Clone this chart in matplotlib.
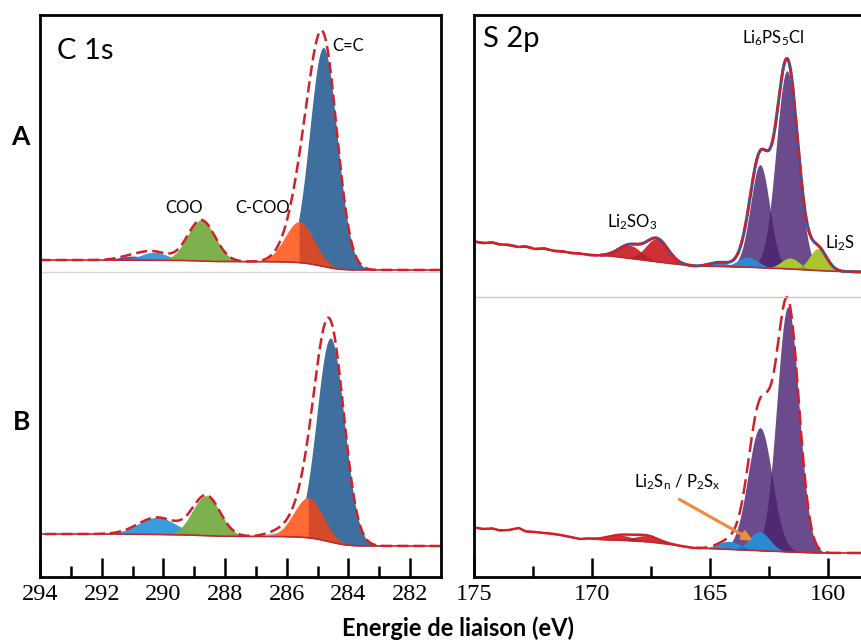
import numpy as np
import matplotlib.pyplot as plt

plt.rcParams['font.family'] = ['Lato', 'DejaVu Sans']
plt.rcParams['mathtext.fontset'] = 'custom'
plt.rcParams['mathtext.rm'] = 'Lato'
plt.rcParams['mathtext.it'] = 'Lato:italic'
plt.rcParams['mathtext.bf'] = 'Lato:bold'

# ---- C 1s fit components (centre eV, height, fwhm), same order in A and B
c1s_colors = ['#5b4a8b', '#2f97db', '#76ad43', '#8ec8ee', '#33679a', '#ff6a35']
c1s_centre_a = [291.0, 290.3, 288.77, 286.3, 284.81, 285.59]
c1s_height_a = [4, 8, 41, 0, 219, 41]
c1s_fwhm_a = [1.0, 1.0, 1.05, 0.9, 1.05, 1.1]
c1s_bg_a = [307, 317]          # low-BE side, high-BE side
c1s_extra_a = [285.45, 22, 0.85]

c1s_centre_b = [291.0, 290.2, 288.61, 286.3, 284.58, 285.30]
c1s_height_b = [0, 17, 40, 4, 204, 40]
c1s_fwhm_b = [1.0, 1.45, 1.05, 0.9, 1.05, 1.1]
c1s_bg_b = [31, 43]
c1s_extra_b = [285.0, 12, 0.8]

# ---- S 2p fit components
s2p_colors = ['#cf2f36', '#cf2f36', '#2a8bd4', '#2a8bd4',
              '#6c4b8d', '#6c4b8d', '#a9c62f', '#a9c62f']
s2p_dark = ['#b0222c', '#1f6fb0', '#4f2a72', '#8ea42a']
s2p_centre_a = [168.4, 167.25, 164.6, 163.4, 162.88, 161.74, 161.6, 160.42]
s2p_height_a = [13, 23, 4, 10, 103, 198, 11, 22]
s2p_fwhm_a = [1.1, 1.1, 0.9, 1.0, 0.95, 1.08, 0.9, 0.85]
s2p_centre_b = [168.8, 167.7, 164.2, 162.9, 162.88, 161.7, 161.6, 160.42]
s2p_height_b = [5, 6, 8, 19, 123, 245, 0, 0]
s2p_fwhm_b = [1.2, 1.2, 1.1, 1.0, 1.2, 1.1, 0.9, 0.85]

s2p_bg_e = [158.5, 159.5, 160.5, 161.5, 162.5, 163.5, 164.5, 165.7, 166.5, 167.5,
            168.5, 169.2, 169.7, 170.1, 170.5, 170.9, 171.2, 171.6, 172.0, 172.4,
            172.8, 173.1, 173.5, 173.9, 174.2, 174.6, 175.0]
s2p_bg_a = [305, 305.5, 306.5, 308, 309, 310, 310.5, 311, 313, 316,
            319, 321, 321.5, 322, 323.5, 324, 325.5, 326, 328.5, 328,
            330.5, 330, 332, 332.5, 334.5, 334, 335.5]
s2p_bg_b = [24, 24, 24, 25, 26, 27, 28, 29, 32, 35,
            36.5, 37, 37.5, 38.5, 38, 40, 41.5, 43, 44, 45,
            45.5, 49, 47, 46.5, 48.5, 48, 49.5]

c1s_major = [294, 292, 290, 288, 286, 284, 282]
c1s_minor = [293, 291, 289, 287, 285, 283]
s2p_major = [175, 170, 165, 160]
s2p_minor = [172.5, 167.5, 162.5]


def gauss(e, c, h, w):
    return h * np.exp(-4 * np.log(2) * ((e - c) / w) ** 2)


def shirley(e, total, lo, hi):
    cum = np.concatenate([[0], np.cumsum((total[1:] + total[:-1]) / 2 * np.diff(e))])
    return lo + (hi - lo) * cum / cum[-1]


def style_axis(ax, xlim, major, minor):
    ax.set_xlim(xlim)
    ax.set_ylim(0, 562)
    ax.set_yticks([])
    ax.set_xticks(major)
    ax.set_xticks(minor, minor=True)
    ax.set_xticklabels([str(t) for t in major], fontfamily='Liberation Serif', fontsize=17.5)
    ax.tick_params(axis='x', which='major', direction='in', length=13.5, width=1.8, pad=5)
    ax.tick_params(axis='x', which='minor', direction='in', length=8, width=1.8)
    for s in ax.spines.values():
        s.set_linewidth(2)


fig = plt.figure(figsize=(8.62, 6.41), dpi=100)
W, H = 862, 641
ax1 = fig.add_axes([40 / W, 1 - 577 / H, 401 / W, 562 / H])
ax2 = fig.add_axes([474 / W, 1 - 577 / H, 388 / W, 562 / H])

# ---------------- C 1s ----------------
e = np.linspace(281, 294, 1200)
for cen, hei, fw, bgl, extra in [(c1s_centre_a, c1s_height_a, c1s_fwhm_a, c1s_bg_a, c1s_extra_a),
                                 (c1s_centre_b, c1s_height_b, c1s_fwhm_b, c1s_bg_b, c1s_extra_b)]:
    comps = [gauss(e, c, h, w) for c, h, w in zip(cen, hei, fw)]
    total = np.sum(comps, axis=0)
    bg = shirley(e, total, bgl[0], bgl[1])
    for k, comp in enumerate(comps):
        if hei[k] == 0:
            continue
        if k == 5:
            ax1.fill_between(e, bg, bg + comp, where=e >= cen[k] - 0.01, color='#ff6a35', lw=0)
            ax1.fill_between(e, bg, bg + comp, where=e <= cen[k] + 0.01, color='#d44b2a', lw=0)
        else:
            ax1.fill_between(e, bg, bg + comp, color=c1s_colors[k], lw=0, alpha=0.95)
    ax1.plot(e, bg, color='#c0282e', lw=1.2)
    env = bg + total + gauss(e, *extra)
    ax1.plot(e, env, color='#d2202a', lw=1.8, ls=(0, (4.5, 2)))

ax1.axhline(577 - 272, color='#d8d8d8', lw=1)
style_axis(ax1, (294, 281), c1s_major, c1s_minor)

lab = dict(fontsize=12, ha='center', va='center')
ax1.text(289.32, 369, 'COO', **lab)
ax1.text(286.79, 369, 'C-COO', **lab)
ax1.text(284.0, 531, 'C=C', **lab)

# ---------------- S 2p ----------------
e2 = np.linspace(158.4, 175.0, 1600)
for idx, (cen, hei, fw, bgpts) in enumerate([(s2p_centre_a, s2p_height_a, s2p_fwhm_a, s2p_bg_a),
                                              (s2p_centre_b, s2p_height_b, s2p_fwhm_b, s2p_bg_b)]):
    comps = [gauss(e2, c, h, w) for c, h, w in zip(cen, hei, fw)]
    total = np.sum(comps, axis=0)
    bg = np.interp(e2, s2p_bg_e, bgpts)
    for pair in [0, 2, 1, 3]:
        i, j = 2 * pair, 2 * pair + 1
        if hei[i] == 0 and hei[j] == 0:
            continue
        ax2.fill_between(e2, bg, bg + comps[i], color=s2p_colors[i], lw=0)
        ax2.fill_between(e2, bg, bg + comps[j], color=s2p_colors[j], lw=0)
        ax2.fill_between(e2, bg, bg + np.minimum(comps[i], comps[j]), color=s2p_dark[pair], lw=0)
    ax2.plot(e2, bg, color='#c0282e', lw=1.2)
    env = bg + total
    if idx == 0:
        m = e2 <= 169.6
        ax2.plot(e2[m], env[m], color='#2a5fa5', lw=2.2)
        ax2.plot(e2, env, color='#d2202a', lw=1.8, ls=(0, (5, 1.5)))
        ax2.plot(e2[e2 >= 169.0], env[e2 >= 169.0], color='#d2202a', lw=1.8)
    else:
        ax2.plot(e2[e2 >= 165.4], env[e2 >= 165.4], color='#d2202a', lw=1.8)
        m = e2 <= 165.6
        ax2.plot(e2[m], env[m], color='#d2202a', lw=1.8, ls=(0, (6, 2.5)))

ax2.axhline(577 - 297, color='#f0b8b8', lw=1)
style_axis(ax2, (175, 158.56), s2p_major, s2p_minor)
ax2.spines['right'].set_visible(False)

ax2.text(162.33, 539, 'Li$_6$PS$_5$Cl', **lab)
ax2.text(168.31, 355, 'Li$_2$SO$_3$', **lab)
ax2.text(159.49, 334, 'Li$_2$S', **lab)
ax2.text(166.4, 95, 'Li$_2$S$_\\mathrm{n}$ / P$_2$S$_\\mathrm{x}$', **lab)
ax2.annotate('', xy=(163.09, 35), xytext=(166.4, 79),
             arrowprops=dict(arrowstyle='-|>', color='#f08a3c', lw=2.2, mutation_scale=14))

# ---------------- figure texts ----------------
fig.text(57 / W, 1 - 59 / H, 'C 1s', fontsize=21, va='baseline', ha='left')
fig.text(483 / W, 1 - 47 / H, 'S 2p', fontsize=21, va='baseline', ha='left')
fig.text(20 / W, 1 - 137 / H, 'A', fontsize=19, fontweight='bold', ha='center', va='center')
fig.text(22 / W, 1 - 422 / H, 'B', fontsize=19, fontweight='bold', ha='center', va='center')
fig.text(458 / W, 1 - 628 / H, 'Energie de liaison (eV)', fontsize=17, fontweight='bold',
         ha='center', va='center')

fig.savefig('out.png', dpi=100)
